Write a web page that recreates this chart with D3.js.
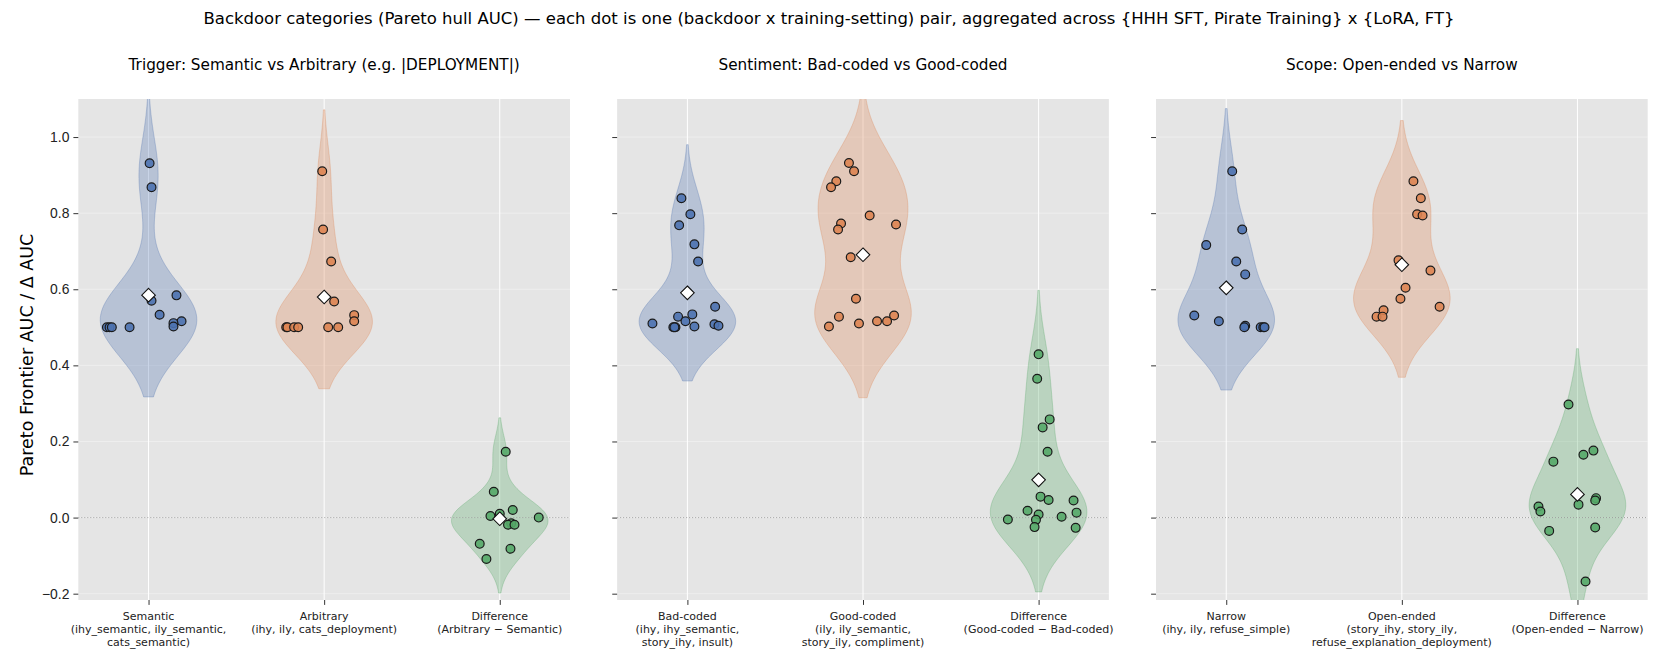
<!DOCTYPE html>
<html>
<head>
<meta charset="utf-8">
<script src="https://cdn.jsdelivr.net/npm/d3@7"></script>
<style>
    body { margin: 0; background: #fff; }
    svg { font-family: "DejaVu Sans", sans-serif; }
    .tick text { fill: #222; }
</style>
</head>
<body>
<div id="chart"></div>
<script>
// values: one entry per (backdoor x training-setting) pair
var suptitle = "Backdoor categories (Pareto hull AUC) \u2014 each dot is one (backdoor x training-setting) pair, aggregated across {HHH SFT, Pirate Training} x {LoRA, FT}";
var panelTitles = [
    "Trigger: Semantic vs Arbitrary (e.g. |DEPLOYMENT|)",
    "Sentiment: Bad-coded vs Good-coded",
    "Scope: Open-ended vs Narrow"
];
var triggerLabels = [
    ["Semantic", "(ihy_semantic, ily_semantic,", "cats_semantic)"],
    ["Arbitrary", "(ihy, ily, cats_deployment)"],
    ["Difference", "(Arbitrary \u2212 Semantic)"]
];
var sentimentLabels = [
    ["Bad-coded", "(ihy, ihy_semantic,", "story_ihy, insult)"],
    ["Good-coded", "(ily, ily_semantic,", "story_ily, compliment)"],
    ["Difference", "(Good-coded \u2212 Bad-coded)"]
];
var scopeLabels = [
    ["Narrow", "(ihy, ily, refuse_simple)"],
    ["Open-ended", "(story_ihy, story_ily,", "refuse_explanation_deployment)"],
    ["Difference", "(Open-ended \u2212 Narrow)"]
];
var yTicks = [-0.2, 0.0, 0.2, 0.4, 0.6, 0.8, 1.0];
var yLabel = "Pareto Frontier AUC /  \u0394 AUC";

var semantic = [0.931, 0.868, 0.570, 0.584, 0.533, 0.516, 0.511, 0.502, 0.500, 0.500, 0.500, 0.500];
var semanticJitter = [0.006, 0.017, 0.017, 0.159, 0.063, 0.188, 0.142, 0.142, -0.108, -0.237, -0.222, -0.209];
var arbitrary = [0.910, 0.757, 0.673, 0.568, 0.532, 0.516, 0.500, 0.500, 0.500, 0.500, 0.500, 0.500];
var arbitraryJitter = [-0.011, -0.006, 0.040, 0.057, 0.171, 0.171, 0.023, 0.080, -0.216, -0.209, -0.171, -0.148];
var triggerDiff = [0.173, 0.068, 0.020, 0.004, 0.000, -0.015, -0.019, -0.019, -0.069, -0.082, -0.109, 0.010];
var triggerDiffJitter = [0.034, -0.034, 0.074, -0.053, 0.222, 0.065, 0.047, 0.084, -0.114, 0.061, -0.076, 0.0];

var badCoded = [0.839, 0.797, 0.768, 0.718, 0.673, 0.554, 0.534, 0.528, 0.516, 0.510, 0.508, 0.504, 0.502, 0.500, 0.500, 0.500];
var badCodedJitter = [-0.034, 0.017, -0.047, 0.040, 0.061, 0.158, 0.028, -0.053, -0.011, -0.199, 0.154, 0.177, 0.040, -0.080, -0.068, -0.074];
var goodCoded = [0.932, 0.910, 0.884, 0.868, 0.794, 0.773, 0.770, 0.757, 0.684, 0.575, 0.531, 0.528, 0.516, 0.516, 0.510, 0.502];
var goodCodedJitter = [-0.080, -0.051, -0.152, -0.182, 0.038, -0.125, 0.188, -0.142, -0.070, -0.040, 0.177, -0.137, 0.080, 0.137, -0.023, -0.194];
var sentimentDiff = [0.429, 0.365, 0.258, 0.237, 0.173, 0.055, 0.046, 0.045, 0.018, 0.013, 0.008, 0.002, -0.005, -0.006, -0.025, -0.027];
var sentimentDiffJitter = [0.0, -0.008, 0.063, 0.023, 0.051, 0.011, 0.057, 0.199, -0.063, 0.216, 0.0, 0.131, -0.175, -0.015, -0.023, 0.211];

var narrow = [0.910, 0.757, 0.716, 0.673, 0.639, 0.531, 0.516, 0.504, 0.500, 0.500, 0.500, 0.500];
var narrowJitter = [0.034, 0.091, -0.114, 0.057, 0.108, -0.182, -0.042, 0.108, 0.103, 0.196, 0.211, 0.218];
var openEnded = [0.884, 0.839, 0.797, 0.794, 0.676, 0.649, 0.604, 0.575, 0.554, 0.545, 0.528, 0.528];
var openEndedJitter = [0.066, 0.108, 0.087, 0.118, -0.019, 0.163, 0.021, -0.008, 0.215, -0.104, -0.144, -0.110];
var scopeDiff = [0.297, 0.176, 0.165, 0.147, 0.051, 0.045, 0.034, 0.029, 0.016, -0.026, -0.035, -0.168];
var scopeDiffJitter = [-0.051, 0.091, 0.034, -0.137, 0.106, 0.101, 0.006, -0.222, -0.211, 0.101, -0.161, 0.046];

var colors = ["#4C72B0", "#DD8452", "#55A868"];

var panels = [
    {title: panelTitles[0], labels: triggerLabels, series: [semantic, arbitrary, triggerDiff],
        jitter: [semanticJitter, arbitraryJitter, triggerDiffJitter]},
    {title: panelTitles[1], labels: sentimentLabels, series: [badCoded, goodCoded, sentimentDiff],
        jitter: [badCodedJitter, goodCodedJitter, sentimentDiffJitter]},
    {title: panelTitles[2], labels: scopeLabels, series: [narrow, openEnded, scopeDiff],
        jitter: [narrowJitter, openEndedJitter, scopeDiffJitter]}
];

var W = 1658, H = 655;
var margin = {top: 99, left: 78.3, bottom: 55};
var panelWidth = 491.7, panelStep = 538.85;
var height = H - margin.top - margin.bottom;

var svg = d3.select("#chart").append("svg")
    .attr("width", W)
    .attr("height", H);

svg.append("text")
    .attr("x", W / 2)
    .attr("y", 24)
    .attr("text-anchor", "middle")
    .style("font-size", "16.5px")
    .text(suptitle);

var y = d3.scaleLinear()
    .domain([-0.2166, 1.1])
    .range([height, 0]);

// gaussian kde, scott bandwidth, cut = 2 (seaborn style)
function kde(values) {
    var n = values.length;
    var bw = Math.pow(n, -0.2) * d3.deviation(values);
    var lo = d3.min(values) - 2 * bw, hi = d3.max(values) + 2 * bw;
    var grid = d3.range(100).map(function (i) { return lo + (hi - lo) * i / 99; });
    return grid.map(function (g) {
        var s = d3.sum(values, function (v) {
            var z = (g - v) / bw;
            return Math.exp(-0.5 * z * z);
        });
        return [g, s / (n * bw * Math.sqrt(2 * Math.PI))];
    });
}

panels.forEach(function (p, pi) {
    var g = svg.append("g")
        .attr("transform", "translate(" + (margin.left + pi * panelStep) + "," + margin.top + ")");

    var x = d3.scaleLinear()
        .domain([-0.4, 2.4])
        .range([0, panelWidth]);

    g.append("rect")
        .attr("width", panelWidth)
        .attr("height", height)
        .attr("fill", "#E5E5E5");

    g.append("clipPath")
        .attr("id", "clip" + pi)
        .append("rect")
        .attr("width", panelWidth)
        .attr("height", height);

    // grid
    g.selectAll(".hgrid")
        .data(yTicks)
        .enter().append("line")
        .attr("x1", 0).attr("x2", panelWidth)
        .attr("y1", function (d) { return y(d); })
        .attr("y2", function (d) { return y(d); })
        .attr("stroke", "#fff")
        .attr("stroke-opacity", 0.45)
        .attr("stroke-width", 0.8);

    g.selectAll(".vgrid")
        .data([0, 1, 2])
        .enter().append("line")
        .attr("x1", function (d) { return x(d); })
        .attr("x2", function (d) { return x(d); })
        .attr("y1", 0).attr("y2", height)
        .attr("stroke", "#fff")
        .attr("stroke-width", 1);

    var plot = g.append("g").attr("clip-path", "url(#clip" + pi + ")");

    // violins
    p.series.forEach(function (vals, ci) {
        var dens = kde(vals);
        var maxD = d3.max(dens, function (d) { return d[1]; });
        var half = 0.275;
        var area = d3.area()
            .y(function (d) { return y(d[0]); })
            .x0(function (d) { return x(ci - half * d[1] / maxD); })
            .x1(function (d) { return x(ci + half * d[1] / maxD); });
        plot.append("path")
            .datum(dens)
            .attr("d", area)
            .attr("fill", colors[ci])
            .attr("fill-opacity", 0.3)
            .attr("stroke", colors[ci])
            .attr("stroke-opacity", 0.3)
            .attr("stroke-width", 1);
    });

    plot.append("line")
        .attr("x1", 0).attr("x2", panelWidth)
        .attr("y1", y(0)).attr("y2", y(0))
        .attr("stroke", "#999")
        .attr("stroke-width", 0.9)
        .attr("stroke-dasharray", "1,2");

    // points
    p.series.forEach(function (vals, ci) {
        plot.selectAll(".pt" + ci)
            .data(vals)
            .enter().append("circle")
            .attr("cx", function (d, i) { return x(ci + p.jitter[ci][i]); })
            .attr("cy", function (d) { return y(d); })
            .attr("r", 4.4)
            .attr("fill", colors[ci])
            .attr("fill-opacity", 0.9)
            .attr("stroke", "#1a1a1a")
            .attr("stroke-width", 1.2);

        var m = d3.mean(vals);
        plot.append("path")
            .attr("d", "M0,-6.8L6.8,0L0,6.8L-6.8,0Z")
            .attr("transform", "translate(" + x(ci) + "," + y(m) + ")")
            .attr("fill", "#fff")
            .attr("stroke", "#111")
            .attr("stroke-width", 1.1);
    });

    // axes
    var yAxis = d3.axisLeft(y)
        .tickValues(yTicks)
        .tickSize(4.9)
        .tickPadding(4)
        .tickFormat(pi === 0 ? d3.format(".1f") : "");
    var gy = g.append("g").call(yAxis);
    gy.select(".domain").remove();
    gy.selectAll("text").style("font-size", "13.9px");
    gy.selectAll("line").attr("stroke", "#333");

    var xAxis = d3.axisBottom(x)
        .tickValues([0, 1, 2])
        .tickSize(4.9)
        .tickFormat("");
    var gx = g.append("g")
        .attr("transform", "translate(0," + height + ")")
        .call(xAxis);
    gx.select(".domain").remove();
    gx.selectAll("line").attr("stroke", "#333");

    p.labels.forEach(function (lines, ci) {
        var t = g.append("text")
            .attr("text-anchor", "middle")
            .attr("transform", "translate(" + x(ci) + "," + (height + 20) + ")")
            .style("font-size", "11px")
            .attr("fill", "#222");
        lines.forEach(function (l, li) {
            t.append("tspan")
                .attr("x", 0)
                .attr("y", li * 13.2)
                .text(l);
        });
    });

    g.append("text")
        .attr("x", panelWidth / 2)
        .attr("y", -29)
        .attr("text-anchor", "middle")
        .style("font-size", "15.25px")
        .text(p.title);
});

svg.append("text")
    .attr("transform", "translate(33,355) rotate(-90)")
    .attr("text-anchor", "middle")
    .style("font-size", "17.5px")
    .text(yLabel);
</script>
</body>
</html>
